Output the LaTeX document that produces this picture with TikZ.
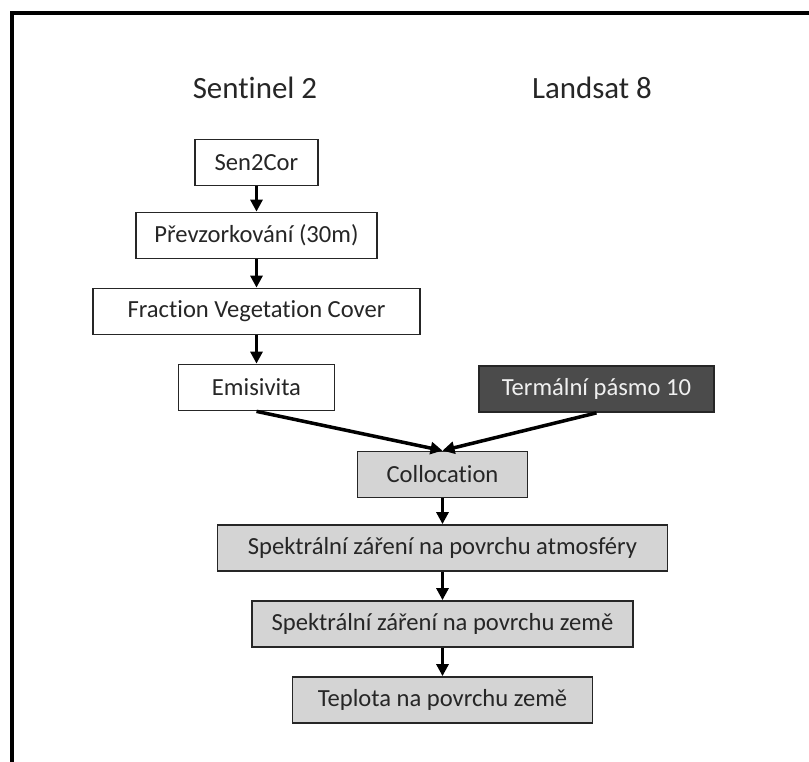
\documentclass[tikz,border=0pt]{standalone}
\usepackage{fontspec}
\setmainfont[Ligatures=NoCommon]{Carlito}
\usetikzlibrary{arrows.meta, positioning}
\definecolor{boxgray}{HTML}{D4D4D4}
\definecolor{darkbox}{HTML}{4B4B4B}

\begin{document}
\begin{tikzpicture}[box/.style={draw=black!85, line width=1pt, minimum height=0.92cm, inner sep=2pt, font=\fontsize{14}{16}\selectfont, text=black!85},
                    s2/.style={box, fill=white},
                    l8/.style={box, fill=darkbox, text=white!94!black},
                    proc/.style={box, fill=boxgray},
                    title/.style={font=\fontsize{17.6}{21}\selectfont, text=black!85},
                    >={Triangle[length=0.24cm, width=0.24cm]}]

    \useasboundingbox (0,0) rectangle (16.18,15.24);
    \draw[line width=2pt] (0.24,0) -- (0.24,14.98) -- (16.18,14.98);

    \node [title] (sentinel) at (5.10, 13.48) {Sentinel 2};
    \node [title] (landsat) at (11.84, 13.48) {Landsat 8};

    \node [s2, minimum width=2.46cm] (sen2cor) at (5.13, 11.99) {Sen2Cor};
    \node [s2, minimum width=4.82cm] (prevz) at (5.13, 10.53) {Převzorkování (30m)};
    \node [s2, minimum width=6.54cm] (fvc) at (5.13, 9.01) {Fraction Vegetation Cover};
    \node [s2, minimum width=3.12cm] (emis) at (5.13, 7.49) {Emisivita};
    \node [l8, minimum width=4.70cm] (term) at (11.93, 7.46) {Termální pásmo 10};
    \node [proc, minimum width=3.40cm] (coll) at (8.85, 5.75) {Collocation};
    \node [proc, minimum width=9.00cm] (toa) at (8.85, 4.28) {Spektrální záření na povrchu atmosféry};
    \node [proc, minimum width=7.62cm] (boa) at (8.85, 2.76) {Spektrální záření na povrchu země};
    \node [proc, minimum width=6.00cm] (lst) at (8.85, 1.24) {Teplota na povrchu země};

 \path[->, line width=2pt]
      (sen2cor) edge (prevz)
      (prevz) edge (fvc)
      (fvc) edge (emis)
      (emis.south) edge (coll.north)
      (term.south) edge (coll.north)
      (coll) edge (toa)
      (toa) edge (boa)
      (boa) edge (lst);
\end{tikzpicture}
\end{document}
